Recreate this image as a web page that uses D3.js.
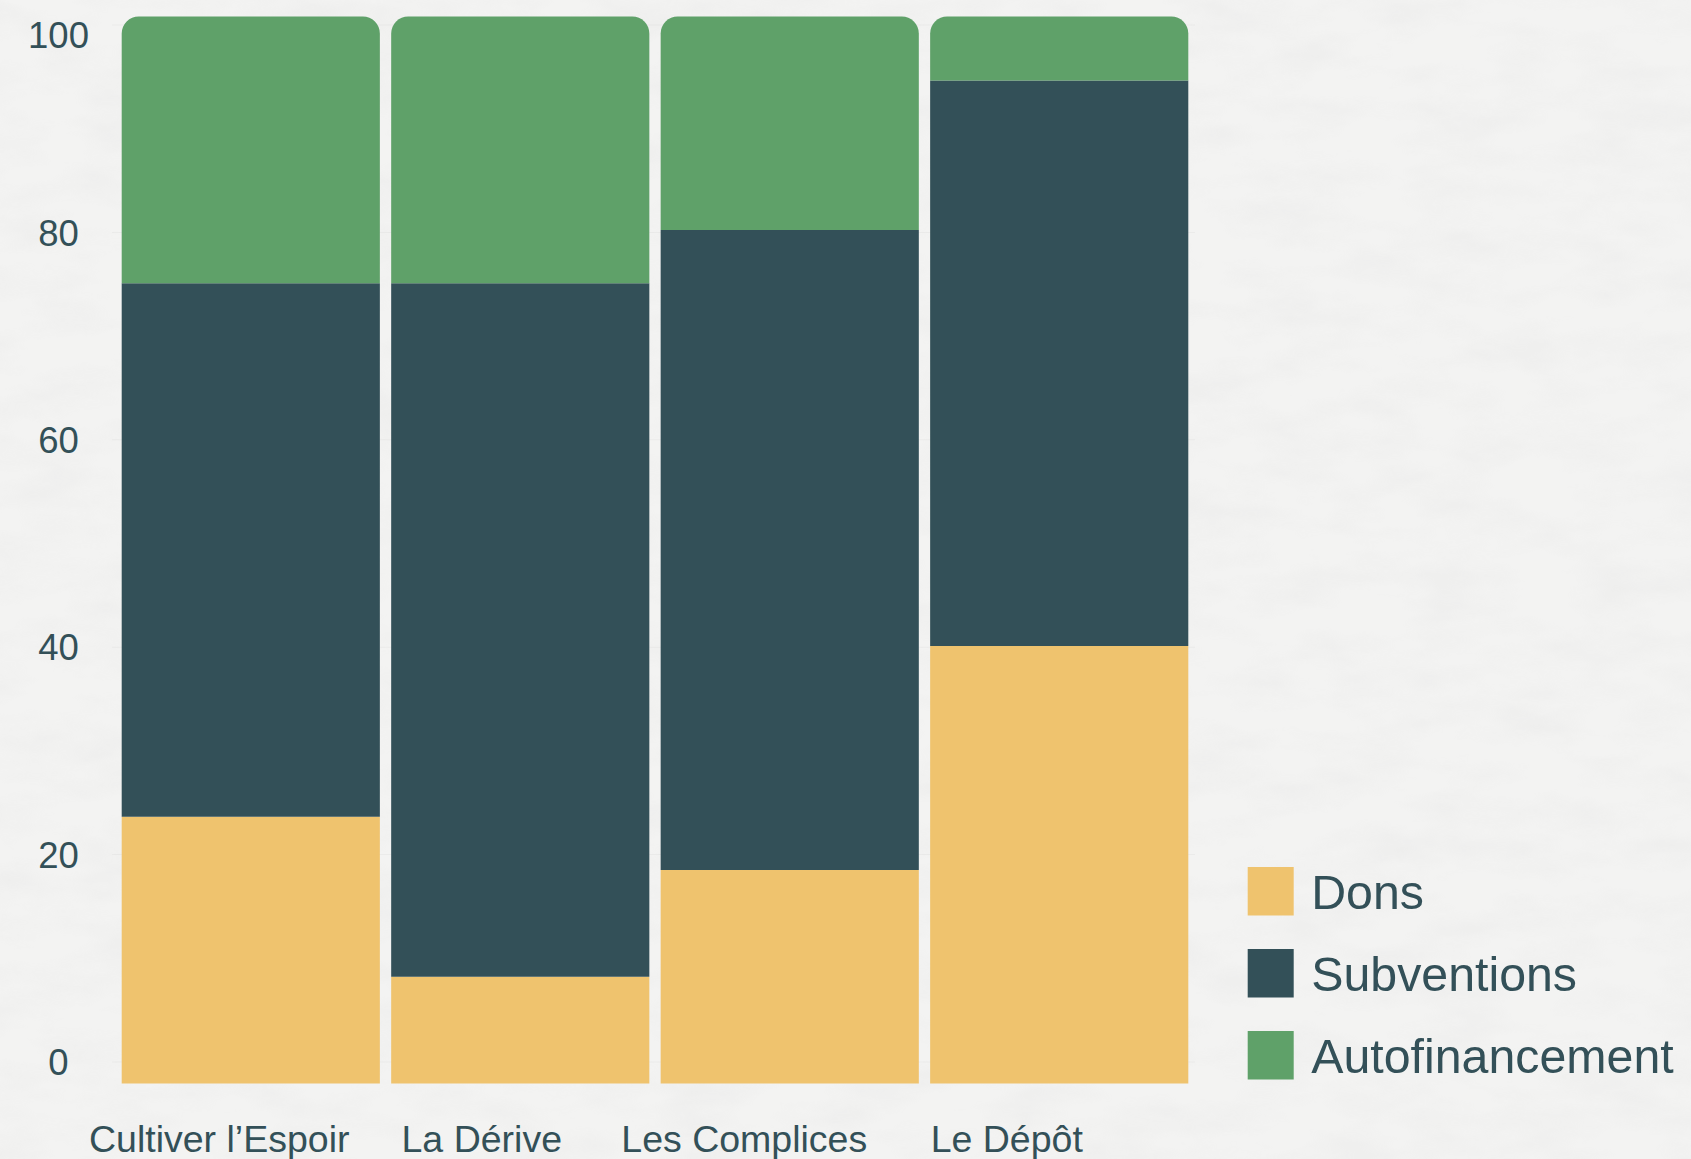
<!DOCTYPE html>
<html>
<head>
<meta charset="utf-8">
<script src="https://cdn.jsdelivr.net/npm/d3@7"></script>
<style>
    body { margin: 0; background: #f2f2f1; }
    #canvas svg text { font-family: "Liberation Sans", Arial, sans-serif; fill: #335058; }
</style>
</head>
<body>
<div id="canvas"></div>
<script>
const width = 1691, height = 1159;

// data
const projects = ["Cultiver l’Espoir", "La Dérive", "Les Complices", "Le Dépôt"];
const sources = ["Dons", "Subventions", "Autofinancement"];
const dons = [25, 10, 20, 41];
const subventions = [50, 65, 60, 53];
const autofinancement = [25, 25, 20, 6];
const yTicks = [0, 20, 40, 60, 80, 100];
const colors = ["#efc36e", "#335058", "#5fa169"];

let rows = projects.map((p, i) => ({"projet": p, "Dons": dons[i], "Subventions": subventions[i], "Autofinancement": autofinancement[i]}));
let stacked = d3.stack().keys(sources)(rows);

let svg = d3.select("#canvas").append("svg").attr("width", width).attr("height", height);

// paper-ish background
let defs = svg.append("defs");
let f = defs.append("filter").attr("id", "paper").attr("x", 0).attr("y", 0).attr("width", "100%").attr("height", "100%");
f.append("feTurbulence").attr("type", "fractalNoise").attr("baseFrequency", "0.012 0.03").attr("numOctaves", 4).attr("seed", 7);
f.append("feColorMatrix").attr("type", "matrix")
    .attr("values", "0 0 0 0 0.5  0 0 0 0 0.5  0 0 0 0 0.5  0 0 0 -0.9 0.55");
svg.append("rect").attr("width", width).attr("height", height).attr("fill", "#f3f3f2");
svg.append("rect").attr("width", width).attr("height", height).attr("filter", "url(#paper)").attr("opacity", 0.18);

var x = d3.scaleBand()
    .domain(projects)
    .range([121.7, 1188.3])
    .paddingInner(0.042);
var y = d3.scaleLinear()
    .domain([0, 100])
    .range([1083.5, 16.5]);
// tick labels sit on their own slightly inset scale in the original
var yLab = d3.scaleLinear()
    .domain([0, 100])
    .range([1062, 25]);
var xLab = d3.scaleBand()
    .domain(projects)
    .range([88, 1138]);
const labTop = 34.5; // top label is kept inside the frame

// faint grid
svg.append("g").selectAll("line")
    .data(yTicks)
    .enter().append("line")
    .attr("x1", 112).attr("x2", 1195)
    .attr("y1", d => yLab(d)).attr("y2", d => yLab(d))
    .attr("stroke", "#000").attr("stroke-opacity", 0.035);

const r = 17;
function segPath(x0, w, yTop, yBot, round) {
    if (!round) return `M${x0},${yBot}V${yTop}H${x0 + w}V${yBot}Z`;
    return `M${x0},${yBot}V${yTop + r}A${r},${r} 0 0 1 ${x0 + r},${yTop}H${x0 + w - r}A${r},${r} 0 0 1 ${x0 + w},${yTop + r}V${yBot}Z`;
}

svg.append("g").selectAll("g")
    .data(stacked)
    .enter().append("g")
    .attr("fill", (d, i) => colors[i])
    .selectAll("path")
    .data(d => d.map(s => Object.assign(s, {key: d.key})))
    .enter().append("path")
    .attr("d", d => segPath(x(d.data.projet), x.bandwidth(), y(d[1]), y(d[0]), d.key === "Autofinancement"));

// y axis labels
let yAxis = svg.append("g")
    .attr("transform", "translate(58.5,0)")
    .call(d3.axisLeft(yLab).tickValues(yTicks).tickSize(0).tickPadding(0));
yAxis.select(".domain").remove();
yAxis.selectAll(".tick")
    .attr("transform", d => "translate(0," + Math.max(yLab(d), labTop) + ")");
yAxis.selectAll("text")
    .attr("x", 0).attr("dy", "0.36em")
    .attr("text-anchor", "middle")
    .style("font-size", "36.5px");

// x axis labels
let xAxis = svg.append("g")
    .attr("transform", "translate(0,1151.5)")
    .call(d3.axisBottom(xLab).tickSize(0).tickPadding(0));
xAxis.select(".domain").remove();
xAxis.selectAll("text")
    .attr("y", 0).attr("dy", 0)
    .style("font-size", "37.5px");

// legend
let legend = svg.append("g").selectAll("g")
    .data(sources)
    .enter().append("g")
    .attr("transform", (d, i) => "translate(1247.7," + (867 + i * 82) + ")");
legend.append("rect")
    .attr("width", 46).attr("height", 48.5)
    .attr("fill", (d, i) => colors[i]);
legend.append("text")
    .attr("x", 63.5).attr("y", 24.25).attr("dy", "0.36em")
    .style("font-size", "48.3px")
    .text(d => d);
</script>
</body>
</html>
